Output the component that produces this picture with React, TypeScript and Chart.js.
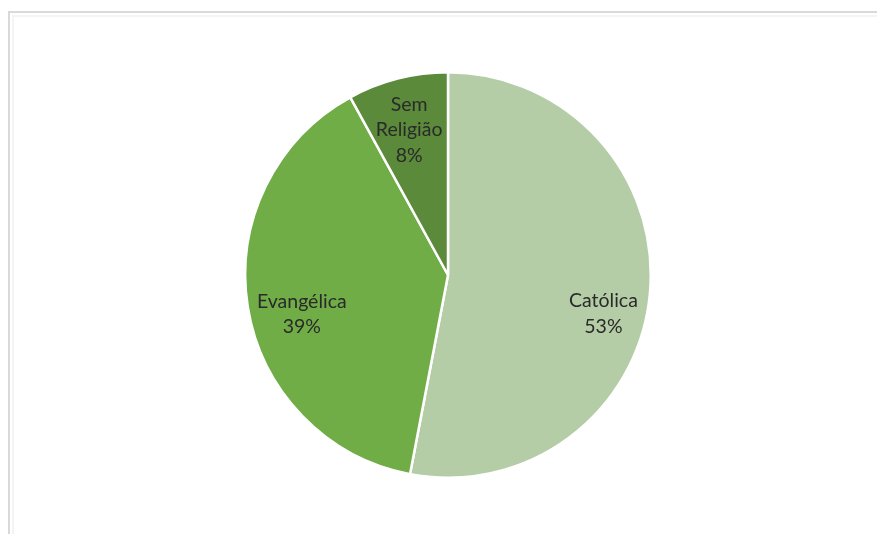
import React, { useEffect, useRef } from "react";
import { Chart, registerables } from "chart.js";

Chart.register(...registerables);

const categories = ["Católica", "Evangélica", "Sem Religião"];
const values = [53, 39, 8];
const sliceColors = ["#b4cda6", "#70ad47", "#5a8a3a"];
// label text lines (category split where Excel wrapped it)
const labelLines = [["Católica"], ["Evangélica"], ["Sem", "Religião"]];
// small label nudges [dx, dy] relative to the slice's mid-angle anchor
const labelNudge = [
  [0, 24],
  [8, 15],
  [0, 6],
];

const labelPlugin = {
  id: "sliceLabels",
  afterDatasetsDraw(chart: any) {
    const ctx = chart.ctx;
    const meta = chart.getDatasetMeta(0);
    const total = values.reduce((a, b) => a + b, 0);
    ctx.save();
    ctx.font = "19.5px Lato, 'Open Sans', sans-serif";
    ctx.fillStyle = "#2a2a2a";
    ctx.textAlign = "center";
    ctx.textBaseline = "middle";
    const lineH = 25.5;
    meta.data.forEach((arc: any, i: number) => {
      const p = arc.getProps(["x", "y", "startAngle", "endAngle", "outerRadius"], true);
      const mid = (p.startAngle + p.endAngle) / 2;
      const d = p.outerRadius * 0.77;
      const x = p.x + Math.cos(mid) * d + labelNudge[i][0];
      const y = p.y + Math.sin(mid) * d + labelNudge[i][1];
      const pct = Math.round((values[i] / total) * 100) + "%";
      const lines = [...labelLines[i], pct];
      const top = y - ((lines.length - 1) * lineH) / 2;
      lines.forEach((t, k) => ctx.fillText(t, x, top + k * lineH));
    });
    ctx.restore();
  },
};

export default function App() {
  const ref = useRef<HTMLCanvasElement | null>(null);
  useEffect(() => {
    if (!ref.current) return;
    const chart = new Chart(ref.current, {
      type: "pie",
      data: {
        labels: categories,
        datasets: [
          {
            data: values,
            backgroundColor: sliceColors,
            borderColor: "#ffffff",
            borderWidth: 2.5,
          },
        ],
      },
      options: {
        animation: false,
        responsive: false,
        maintainAspectRatio: false,
        layout: { padding: { top: 71, bottom: 55, left: 19, right: 0 } },
        plugins: {
          legend: { display: false },
          tooltip: { enabled: false },
        },
      },
      plugins: [labelPlugin],
    });
    return () => chart.destroy();
  }, []);

  return (
    <div
      style={{
        position: "fixed",
        left: 0,
        top: 0,
        width: 877,
        height: 534,
        background: "#ffffff",
        overflow: "hidden",
      }}
    >
      <div
        style={{
          position: "absolute",
          left: 8,
          top: 11,
          width: 900,
          height: 600,
          border: "2px solid #d9d9d9",
          boxShadow: "inset 2px 2px 0 #ffffff, inset 4px 4px 0 #f4f4f4",
          boxSizing: "border-box",
        }}
      />
      <canvas
        ref={ref}
        width={877}
        height={534}
        style={{ position: "absolute", left: 0, top: 0, width: 877, height: 534 }}
      />
    </div>
  );
}
